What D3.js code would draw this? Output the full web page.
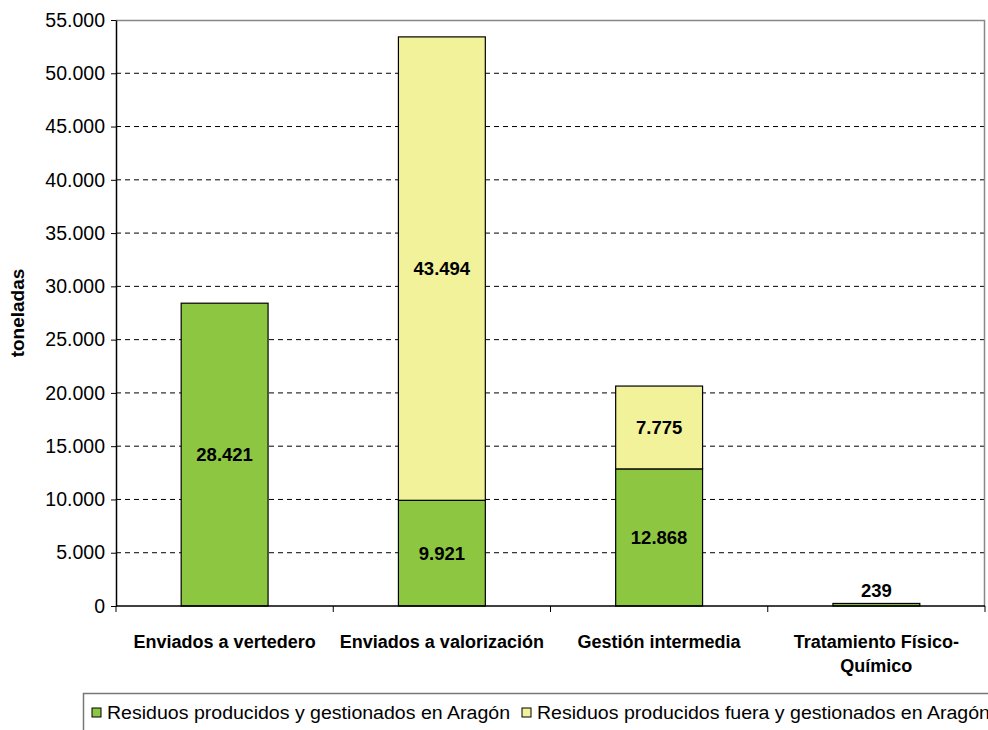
<!DOCTYPE html>
<html>
<head>
<meta charset="utf-8">
<script src="https://cdn.jsdelivr.net/npm/d3@7"></script>
<style>
  body { margin: 0; background: #fff; }
  svg { display: block; font-family: "Liberation Sans", Arial, sans-serif; }
</style>
</head>
<body>
<div id="chart"></div>
<script>
// Data
const categories = ["Enviados a vertedero", "Enviados a valorización", "Gestión intermedia", "Tratamiento Físico-Químico"];
const seriesNames = ["Residuos producidos y gestionados en Aragón", "Residuos producidos fuera y gestionados en Aragón"];
const aragon = [28421, 9921, 12868, 239];
const fuera = [0, 43494, 7775, 0];
const yTicks = [0, 5000, 10000, 15000, 20000, 25000, 30000, 35000, 40000, 45000, 50000, 55000];
const colors = ["#8dc641", "#f2f29b"];

const width = 988, height = 730;
const margin = { top: 20, right: 3, bottom: 124, left: 116 };
const innerW = width - margin.left - margin.right;
const innerH = height - margin.top - margin.bottom;

const fmt = v => d3.format(",")(v).replace(/,/g, ".");

const svg = d3.select("#chart").append("svg")
    .attr("width", width)
    .attr("height", height);

const g = svg.append("g")
    .attr("transform", `translate(${margin.left},${margin.top})`);

const x = d3.scaleBand().domain(categories).range([0, innerW]).paddingInner(0.6).paddingOuter(0.3);
const y = d3.scaleLinear().domain([0, 55000]).range([innerH, 0]);

// Gridlines
g.selectAll(".grid")
    .data(yTicks.filter(t => t > 0 && t < 55000))
    .enter().append("line")
    .attr("x1", 0).attr("x2", innerW)
    .attr("y1", d => y(d)).attr("y2", d => y(d))
    .attr("stroke", "#000")
    .attr("stroke-dasharray", "5,4");

// Plot border top/right
g.append("path")
    .attr("d", `M0,0.5H${innerW - 0.5}V${innerH}`)
    .attr("fill", "none")
    .attr("stroke", "#888")
    .attr("stroke-width", 1.5);

// Stack data
const stackData = categories.map((c, i) => ({ cat: c, a: aragon[i], b: fuera[i] }));
const stack = d3.stack().keys(["a", "b"])(stackData);

g.selectAll(".layer")
    .data(stack)
    .enter().append("g")
    .attr("fill", (d, i) => colors[i])
    .selectAll("rect")
    .data(d => d.filter(s => s[1] - s[0] > 0))
    .enter().append("rect")
    .attr("x", d => x(d.data.cat))
    .attr("y", d => y(d[1]))
    .attr("width", x.bandwidth())
    .attr("height", d => y(d[0]) - y(d[1]))
    .attr("stroke", "#000")
    .attr("stroke-width", 1.2);

// Value labels
stack.forEach(layer => {
    layer.forEach(s => {
        const v = s[1] - s[0];
        if (v <= 0) return;
        const h = y(s[0]) - y(s[1]);
        const ly = h > 30 ? (y(s[0]) + y(s[1])) / 2 + 6.5 : y(s[1]) - 6;
        g.append("text")
            .attr("x", x(s.data.cat) + x.bandwidth() / 2)
            .attr("y", ly)
            .attr("text-anchor", "middle")
            .style("font-size", "18.5px")
            .style("font-weight", "bold")
            .text(fmt(v));
    });
});

// Y axis
const yAxis = g.append("g")
    .call(d3.axisLeft(y).tickValues(yTicks).tickSize(5).tickSizeOuter(0).tickFormat(fmt));
yAxis.select(".domain").attr("stroke", "#000").attr("stroke-width", 1.5);
yAxis.selectAll("text").style("font-size", "19.5px").attr("x", -11).attr("fill", "#000");

// X axis line and boundary ticks
g.append("line")
    .attr("x1", 0).attr("x2", innerW)
    .attr("y1", innerH).attr("y2", innerH)
    .attr("stroke", "#000").attr("stroke-width", 1.5);
const step = innerW / categories.length;
g.selectAll(".xtick")
    .data(d3.range(categories.length + 1))
    .enter().append("line")
    .attr("x1", d => d * step).attr("x2", d => d * step)
    .attr("y1", innerH).attr("y2", innerH + 6)
    .attr("stroke", "#000");

// Category labels (wrap last one)
const catLines = { "Tratamiento Físico-Químico": ["Tratamiento Físico-", "Químico"] };
categories.forEach(c => {
    const lines = catLines[c] || [c];
    const t = g.append("text")
        .attr("text-anchor", "middle")
        .style("font-size", "18px")
        .style("font-weight", "bold");
    lines.forEach((l, i) => {
        t.append("tspan")
            .attr("x", x(c) + x.bandwidth() / 2)
            .attr("y", innerH + 42 + i * 24)
            .text(l);
    });
});

// Y axis title
svg.append("text")
    .attr("transform", "translate(24,313) rotate(-90)")
    .attr("text-anchor", "middle")
    .style("font-size", "19px")
    .style("font-weight", "bold")
    .text("toneladas");

// Legend
const legend = svg.append("g");
legend.append("rect")
    .attr("x", 83.5).attr("y", 693.5)
    .attr("width", 1000).attr("height", 60)
    .attr("fill", "#fff")
    .attr("stroke", "#777")
    .attr("stroke-width", 1.5);
const legendX = [92, 522];
let scale = 1;
seriesNames.forEach((name, i) => {
    legend.append("rect")
        .attr("x", legendX[i]).attr("y", 708)
        .attr("width", 9).attr("height", 9)
        .attr("fill", colors[i])
        .attr("stroke", "#000");
    const t = legend.append("text")
        .attr("x", legendX[i] + 15)
        .attr("y", 719)
        .style("font-size", "18px")
        .text(name);
    const natural = t.node().getComputedTextLength();
    if (i === 0) scale = 403 / natural;
    t.attr("textLength", natural * scale).attr("lengthAdjust", "spacingAndGlyphs");
});
</script>
</body>
</html>
